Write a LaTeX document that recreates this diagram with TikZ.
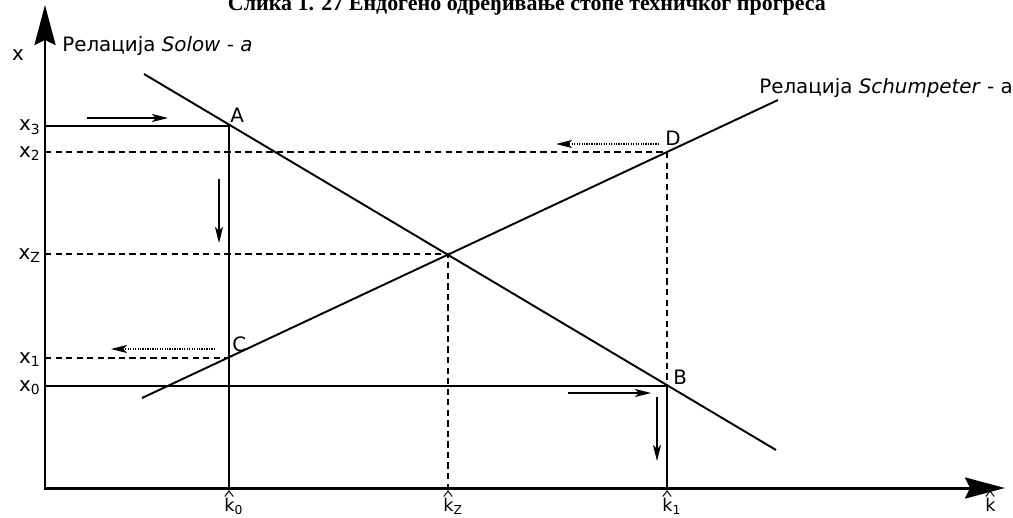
\documentclass[tikz,border=0pt]{standalone}
\usepackage{fontspec}
\setmainfont{DejaVu Sans}
\newfontfamily\titlefont{Liberation Serif}
\usetikzlibrary{arrows.meta}
\begin{document}
\begin{tikzpicture}[x=0.02cm,y=-0.02cm,
  axis/.style={line width=1.7pt,-{Stealth[length=0.8cm,width=0.42cm,inset=0.1cm]}},
  relline/.style={line width=1.1pt},
  guide/.style={line width=1.1pt},
  dguide/.style={line width=1.1pt,dash pattern=on 3.6pt off 2.4pt},
  move/.style={line width=0.6pt,-{Stealth[length=0.32cm,width=0.16cm,inset=0.08cm]}},
  dmove/.style={line width=0.6pt,dash pattern=on 0.7pt off 0.7pt,-{Stealth[length=0.32cm,width=0.16cm,inset=0.08cm]}},
  hatline/.style={line width=0.55pt,line join=miter},
  lbl/.style={font=\fontsize{11.3}{13}\selectfont,inner sep=0pt},
  klbl/.style={font=\fontsize{10}{12}\selectfont,inner sep=0pt},
  pt/.style={font=\fontsize{11.3}{13}\selectfont,inner sep=0pt},
]
\useasboundingbox (0,0) rectangle (1013,517);
% title (cut at the top, as in the reference)
\node[anchor=base,inner sep=0pt,font=\titlefont\bfseries\fontsize{12.5}{14}\selectfont] (title) at (527,11) {Слика 1. 27 Ендогено одређивање стопе техничког прогреса};
% axes
\coordinate (O) at (45,488);
\coordinate (Ob) at (45,489.5);
\coordinate (Ol) at (44.2,488);
\coordinate (ytop) at (45,5);
\coordinate (xend) at (1005,488);
\draw[axis] (Ob) -- (ytop);
\draw[axis] (Ol) -- (xend);
\node[lbl,anchor=base] (xlab) at (18,61) {x};
\node[lbl,anchor=base west] (solowlab) at (62,52) {Релација \textit{Solow} - \textit{a}};
\node[lbl,anchor=base west] (schlab) at (759,93) {Релација \textit{Schumpeter} - a};
% key points
\coordinate (A) at (229,126);
\coordinate (B) at (667,386);
\coordinate (C) at (229,358);
\coordinate (D) at (667,152);
\coordinate (Z) at (448,254);
\coordinate (S1) at (144,74);
\coordinate (S2) at (776,450);
\coordinate (P1) at (142,398);
\coordinate (P2) at (778,100);
% axis feet
\coordinate (y3) at (45,126);
\coordinate (y2) at (45,152);
\coordinate (yz) at (45,254);
\coordinate (y1) at (45,358);
\coordinate (y0) at (45,386);
\coordinate (k0) at (229,488);
\coordinate (kz) at (448,488);
\coordinate (k1) at (667,488);
% relation lines
\draw[relline] (S1) -- (S2);
\draw[relline] (P1) -- (P2);
% solid guides
\draw[guide] (y3) -- (A) -- (k0);
\draw[guide] (y0) -- (B) -- (k1);
% dashed guides
\draw[dguide] (y2) -- (D) -- (B);
\draw[dguide] (yz) -- (Z) -- (kz);
\draw[dguide] (y1) -- (C);
% point labels
\node[pt,anchor=base west] (lA) at (230,122) {A};
\node[pt,anchor=base west] (lB) at (673,384) {B};
\node[pt,anchor=base west] (lC) at (232,351) {C};
\node[pt,anchor=base west] (lD) at (665,145) {D};
% y labels
\node[lbl,anchor=base east] (lx3) at (41,131) {x\textsubscript{3}};
\node[lbl,anchor=base east] (lx2) at (41,157) {x\textsubscript{2}};
\node[lbl,anchor=base east] (lxz) at (41,259) {x\textsubscript{Z}};
\node[lbl,anchor=base east] (lx1) at (41,363) {x\textsubscript{1}};
\node[lbl,anchor=base east] (lx0) at (41,391) {x\textsubscript{0}};
% k labels (hat drawn as a small chevron above each k)
\node[klbl,anchor=base west] (lk0) at (224,511.5) {k\textsubscript{0}};
\node[klbl,anchor=base west] (lkz) at (443,511.5) {k\textsubscript{Z}};
\node[klbl,anchor=base west] (lk1) at (662,511.5) {k\textsubscript{1}};
\node[klbl,anchor=base west] (lk) at (985,511.5) {k};
\coordinate (h0) at (229,491);
\coordinate (hz) at (448,491);
\coordinate (h1) at (667,491);
\coordinate (hk) at (990,491);
\foreach \h in {h0,hz,h1,hk}{
  \draw[hatline] ([shift={(-4.2,5.5)}]\h) -- (\h) -- ([shift={(4.2,5.5)}]\h);
}
% movement arrows
\coordinate (m1a) at (87,118);  \coordinate (m1b) at (168,118);
\coordinate (m2a) at (219,179); \coordinate (m2b) at (219,243);
\coordinate (m3a) at (215,349); \coordinate (m3b) at (111,349);
\coordinate (m4a) at (659,144); \coordinate (m4b) at (556,144);
\coordinate (m5a) at (568,393); \coordinate (m5b) at (651,393);
\coordinate (m6a) at (657,397); \coordinate (m6b) at (657,461);
\draw[move] (m1a) -- (m1b);
\draw[move] (m2a) -- (m2b);
\draw[dmove] (m3a) -- (m3b);
\draw[dmove] (m4a) -- (m4b);
\draw[move] (m5a) -- (m5b);
\draw[move] (m6a) -- (m6b);
\end{tikzpicture}
\end{document}
